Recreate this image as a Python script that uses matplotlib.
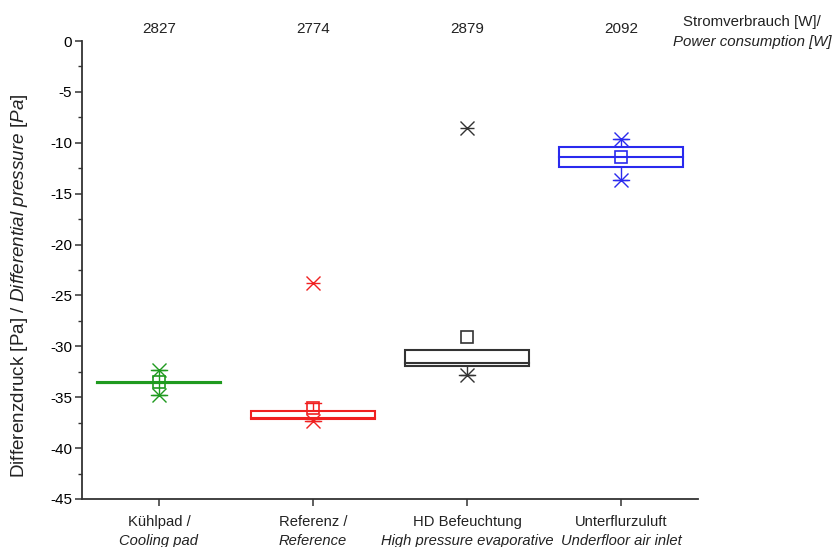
import numpy as np
import matplotlib
matplotlib.use('Agg')
import matplotlib.pyplot as plt
import matplotlib.transforms as mtransforms

plt.rcParams['font.family'] = 'Liberation Sans'
plt.rcParams['mathtext.fontset'] = 'custom'
plt.rcParams['mathtext.rm'] = 'Liberation Sans'
plt.rcParams['mathtext.it'] = 'Liberation Sans:italic'
plt.rcParams['axes.unicode_minus'] = False

# categorie e valori
cat_de = ['Kühlpad /', 'Referenz /', 'HD Befeuchtung', 'Unterflurzuluft']
cat_en = ['Cooling pad', 'Reference', 'High pressure evaporative', 'Underfloor air inlet']
power = ['2827', '2774', '2879', '2092']

q1 = [-33.65, -37.1, -31.9, -12.35]
median = [-33.6, -37.0, -31.65, -11.37]
q3 = [-33.55, -36.4, -30.4, -10.38]
mean = [-33.5, -36.1, -29.05, -11.4]
whisk_lo = [-34.8, -37.3, -32.8, -13.65]
whisk_hi = [-32.3, -35.6, -30.4, -9.66]
ext_lo = [-34.8, -37.3, -32.8, -13.65]
ext_hi = [-32.3, -23.8, -8.5, -9.66]

colours = ['#1f9a1f', '#f02020', '#333333', '#2a2aee']

fig = plt.figure(figsize=(8.34, 5.47), dpi=100)
ax = fig.add_axes([0.0983, 0.0878, 0.7387, 0.8372])

pos = np.arange(1, len(cat_de) + 1)
w = 0.8
for i, x in enumerate(pos):
    c = colours[i]
    # whiskers
    ax.plot([x, x], [q3[i], whisk_hi[i]], '-', color=c, lw=1.0, zorder=2)
    ax.plot([x, x], [q1[i], whisk_lo[i]], '-', color=c, lw=1.0, zorder=2)
    ax.plot([x - 0.05, x + 0.05], [whisk_hi[i]] * 2, '-', color=c, lw=1.0, zorder=2)
    ax.plot([x - 0.05, x + 0.05], [whisk_lo[i]] * 2, '-', color=c, lw=1.0, zorder=2)
    # box
    ax.add_patch(plt.Rectangle((x - w / 2, q1[i]), w, q3[i] - q1[i],
                               facecolor='white', edgecolor=c, lw=1.5, zorder=3))
    ax.plot([x - w / 2, x + w / 2], [median[i]] * 2, '-', color=c, lw=1.5, zorder=4)
    # media
    ax.plot(x, mean[i], 's', ms=8, mfc='none', mec=c, mew=1.2, zorder=5)
    # estremi
    for v in (ext_lo[i], ext_hi[i]):
        ax.plot(x, v, 'x', ms=10, mec=c, mew=1.0, zorder=5)
        ax.plot(x, v, '_', ms=10, mec=c, mew=1.0, zorder=5)

ax.set_xlim(0.5, 4.5)
ax.set_ylim(-45, 0)
ax.set_yticks(np.arange(-45, 1, 5))
ax.set_yticks(np.arange(-42.5, 0, 5), minor=True)
ax.set_xticks(pos)
ax.set_xticklabels([''] * len(pos))
for s in ['top', 'right']:
    ax.spines[s].set_visible(False)
for s in ['left', 'bottom']:
    ax.spines[s].set_color('#333333')
    ax.spines[s].set_linewidth(1.3)
ax.tick_params(axis='both', which='major', direction='out', length=5, width=1.1,
               color='#333333', labelsize=11)
ax.tick_params(axis='y', which='minor', direction='out', length=3, width=1.0, color='#333333')
ax.tick_params(axis='y', pad=2)

trans = mtransforms.blended_transform_factory(ax.transData, ax.transAxes)
for i, x in enumerate(pos):
    ax.annotate(cat_de[i], (x, 0), xycoords=trans, xytext=(0, -16.5), textcoords='offset points',
                ha='center', va='center', fontsize=10.6, color='#222222')
    ax.annotate(cat_en[i], (x, 0), xycoords=trans, xytext=(0, -30.5), textcoords='offset points',
                ha='center', va='center', fontsize=10.6, style='italic', color='#222222',
                annotation_clip=False)
    ax.annotate(power[i], (x, 1), xycoords=trans, xytext=(0, 8.6), textcoords='offset points',
                ha='center', va='center', fontsize=11, color='#222222')

fig.text(0.902, 0.960, 'Stromverbrauch [W]/', ha='center', va='center', fontsize=10.8, color='#222222')
fig.text(0.902, 0.923, 'Power consumption [W]', ha='center', va='center', fontsize=10.8,
         style='italic', color='#222222')

ax.set_ylabel(r'Differenzdruck [Pa] / $\mathit{Differential\ pressure\ [Pa]}$',
              fontsize=13.6, color='#222222', labelpad=4)
ax.yaxis.set_label_coords(-0.085, 0.465)

plt.savefig('out.png', dpi=100)
